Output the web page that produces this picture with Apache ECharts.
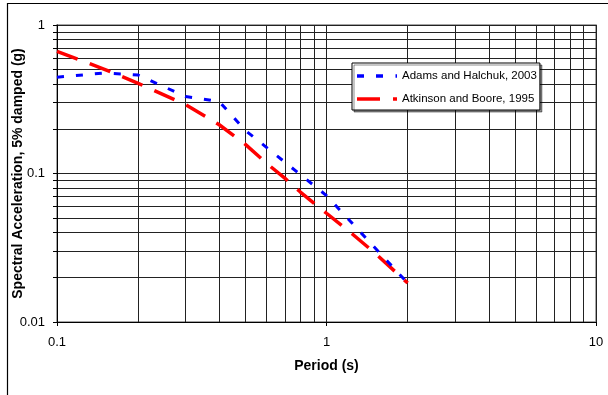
<!DOCTYPE html>
<html>
<head>
<meta charset="utf-8">
<script src="https://cdn.jsdelivr.net/npm/echarts@6/dist/echarts.min.js"></script>
<style>
html,body{margin:0;padding:0;background:#fff;}
#c{width:608px;height:395px;}
</style>
</head>
<body>
<div id="c"></div>
<script>
// Periods (s) and spectral accelerations (g)
const adamsPeriods = [0.1, 0.15, 0.2, 0.3, 0.4, 0.5, 1.0, 2.0];
const adamsSA      = [0.445, 0.475, 0.46, 0.33, 0.305, 0.195, 0.071, 0.0183];
const atkinsonPeriods = [0.1, 0.15, 0.2, 0.3, 0.4, 0.5, 0.6, 0.7, 0.8, 0.9, 1.0, 1.25, 1.5, 2.0];
const atkinsonSA      = [0.665, 0.503, 0.405, 0.291, 0.213, 0.157, 0.117, 0.093, 0.075, 0.063, 0.054, 0.039, 0.0295, 0.0183];
const seriesNames = ['Adams and Halchuk, 2003', 'Atkinson and Boore, 1995'];
const xMajorTicks = [0.1, 1, 10];
const yMajorTicks = [0.01, 0.1, 1];
const xGridValues = [0.1,0.2,0.3,0.4,0.5,0.6,0.7,0.8,0.9,1,2,3,4,5,6,7,8,9,10];
const yGridValues = [0.01,0.02,0.03,0.04,0.05,0.06,0.07,0.08,0.09,0.1,0.2,0.3,0.4,0.5,0.6,0.7,0.8,0.9,1];
const xTitle = 'Period (s)';
const yTitle = 'Spectral Acceleration, 5% damped (g)';

const pairs = (xs, ys) => xs.map((x, i) => [x, ys[i]]);
const FONT = '"Liberation Sans", Arial, sans-serif';
const blueIcon = 'path://M0,0h7v3.5h-7z M19,0h7v3.5h-7z M38.5,0h1.5v3.5h-1.5z';
const redIcon = 'path://M0,0h23v3.5h-23z M36,0h4v3.5h-4z';

const chart = echarts.init(document.getElementById('c'), null, {renderer: 'canvas'});
chart.setOption({
  animation: false,
  backgroundColor: '#fff',
  graphic: [{
    type: 'rect', z: 100, silent: true,
    shape: {x: 7.5, y: 3.5, width: 700, height: 500},
    style: {fill: 'none', stroke: '#000', lineWidth: 1.2}
  }],
  grid: {left: 57, right: 12, top: 25, bottom: 73, show: true, borderColor: '#888', borderWidth: 1.5,
    backgroundColor: 'transparent', containLabel: false, outerBoundsMode: 'none'},
  legend: {
    orient: 'vertical', left: 352, top: 63,
    padding: [6, 3, 4, 5],
    itemWidth: 40, itemHeight: 3.5, itemGap: 9,
    backgroundColor: '#fff', borderColor: '#000', borderWidth: 1,
    shadowColor: 'rgba(0,0,0,0.45)', shadowBlur: 0, shadowOffsetX: 2, shadowOffsetY: 2,
    textStyle: {fontFamily: FONT, fontSize: 11.5, color: '#000', lineHeight: 14},
    data: [{name: seriesNames[0], icon: blueIcon}, {name: seriesNames[1], icon: redIcon}]
  },
  xAxis: [{
    type: 'log', logBase: 10, min: 0.1, max: 10,
    name: xTitle, nameLocation: 'middle', nameGap: 37, nameMoveOverlap: false,
    nameTextStyle: {fontFamily: FONT, fontSize: 14, fontWeight: 'bold', color: '#000'},
    axisLine: {show: true, lineStyle: {color: '#000', width: 1}},
    axisTick: {show: true, length: 4, inside: false, lineStyle: {color: '#000'}, customValues: xMajorTicks},
    axisLabel: {fontFamily: FONT, fontSize: 13, color: '#000', margin: 14, customValues: xMajorTicks,
      formatter: v => String(v)},
    splitLine: {show: true, lineStyle: {color: '#222', width: 1}}
  }, {
    type: 'log', logBase: 10, min: 0.1, max: 10, position: 'bottom',
    axisLine: {show: false},
    axisTick: {show: false, customValues: xGridValues},
    axisLabel: {show: false, customValues: xGridValues},
    splitLine: {show: true, lineStyle: {color: '#222', width: 1}}
  }],
  yAxis: [{
    type: 'log', logBase: 10, min: 0.01, max: 1,
    name: yTitle, nameLocation: 'middle', nameGap: 32, nameMoveOverlap: false,
    nameTextStyle: {fontFamily: FONT, fontSize: 14, fontWeight: 'bold', color: '#000'},
    axisLine: {show: true, lineStyle: {color: '#000', width: 1}},
    axisTick: {show: true, length: 4, inside: false, lineStyle: {color: '#000'}, customValues: yGridValues},
    axisLabel: {fontFamily: FONT, fontSize: 13, color: '#000', margin: 12, customValues: yMajorTicks,
      formatter: v => String(v)},
    splitLine: {show: true, lineStyle: {color: '#222', width: 1}}
  }],
  series: [{
    name: seriesNames[0], type: 'line', xAxisIndex: 0, yAxisIndex: 0,
    data: pairs(adamsPeriods, adamsSA),
    symbol: 'none', z: 5,
    lineStyle: {color: '#0000ff', width: 3, type: [7, 12], cap: 'butt'},
    itemStyle: {color: '#0000ff'}
  }, {
    name: seriesNames[1], type: 'line', xAxisIndex: 0, yAxisIndex: 0,
    data: pairs(atkinsonPeriods, atkinsonSA),
    symbol: 'none', z: 4,
    lineStyle: {color: '#ff0000', width: 3.5, type: [22, 13], cap: 'butt'},
    itemStyle: {color: '#ff0000'}
  }]
});
</script>
</body>
</html>
